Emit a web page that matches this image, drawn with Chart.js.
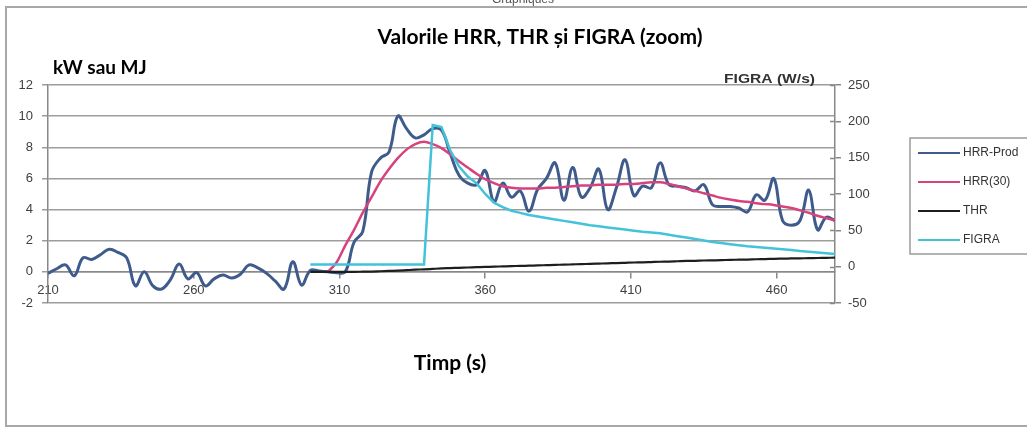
<!DOCTYPE html>
<html><head><meta charset="utf-8">
<script src="https://cdn.jsdelivr.net/npm/chart.js@4/dist/chart.umd.min.js"></script>
<style>html,body{margin:0;padding:0;background:#fff;}#wrap{width:1027px;height:429px;position:relative;}</style>
</head><body><div id="wrap"><canvas id="c" width="1027" height="429"></canvas></div>
<script>
// time (s)
const times = [
 210,213,216,219,222,225,228,231,234,237,
 240,243,246,249,252,255,258,261,264,267,
 270,273,276,279,282,285,288,291,294,297,
 300,303,306,309,312,315,318,321,324,327,
 330,333,336,339,342,345,348,351,354,357,
 360,363,366,369,372,375,378,381,384,387,
 390,393,396,399,402,405,408,411,414,417,
 420,423,426,429,432,435,438,441,444,447,
 450,453,456,459,462,465,468,471,474,477,
 480];
// kW
const hrrProd = [
 -0.1,0.2,0.45,-0.25,0.9,0.8,1.1,1.45,1.25,0.9,
 -0.9,0.0,-0.9,-1.1,-0.5,0.5,-0.45,-0.05,-0.9,-0.45,
 -0.2,-0.4,-0.15,0.45,0.25,-0.1,-0.6,-1.1,0.65,-0.85,
 0.1,0.05,0.0,-0.05,0.0,1.9,2.6,6.4,7.3,7.7,
 10.0,9.2,8.6,8.8,9.2,9.1,7.6,6.2,5.7,5.6,
 6.5,4.5,5.7,4.8,5.2,3.9,5.3,6.0,7.0,4.6,
 6.7,4.8,5.4,6.6,4.0,5.4,7.2,4.9,5.5,5.4,
 7.0,5.6,5.5,5.4,5.2,5.6,4.3,4.2,4.2,4.1,
 3.85,4.95,4.6,6.0,3.3,3.0,3.3,5.25,2.7,3.5,
 3.3];
const hrr30 = [
 null,null,null,null,null,null,null,null,null,null,
 null,null,null,null,null,null,null,null,null,null,
 null,null,null,null,null,null,null,null,null,null,
 null,null,0.0,0.6,1.7,2.7,3.8,4.8,5.8,6.6,
 7.3,7.85,8.2,8.35,8.2,7.95,7.55,7.1,6.7,6.3,
 5.95,5.7,5.5,5.4,5.35,5.35,5.35,5.4,5.4,5.45,
 5.5,5.55,5.55,5.6,5.6,5.6,5.65,5.65,5.7,5.75,
 5.75,5.65,5.5,5.35,5.2,5.05,4.9,4.75,4.65,4.55,
 4.5,4.4,4.35,4.3,4.2,4.1,3.95,3.8,3.6,3.45,
 3.3];
// MJ
const thr = [
 null,null,null,null,null,null,null,null,null,null,
 null,null,null,null,null,null,null,null,null,null,
 null,null,null,null,null,null,null,null,null,null,
 0,0,0,0,0,0,0.01,0.02,0.04,0.06,
 0.08,0.11,0.14,0.16,0.19,0.22,0.24,0.26,0.28,0.3,
 0.32,0.33,0.35,0.37,0.38,0.4,0.41,0.43,0.45,0.46,
 0.48,0.5,0.51,0.53,0.55,0.56,0.58,0.6,0.61,0.63,
 0.65,0.66,0.68,0.7,0.71,0.73,0.74,0.75,0.77,0.78,
 0.79,0.81,0.82,0.84,0.85,0.86,0.87,0.88,0.89,0.9,
 0.91];
// W/s
const figra = [
 null,null,null,null,null,null,null,null,null,null,
 null,null,null,null,null,null,null,null,null,null,
 null,null,null,null,null,null,null,null,null,null,
 3,3,3,3,3,3,3,3,3,3,
 3,3,3,3,195,192,160,138,124,115,
 100,88,82,77,74,71,69,67,65,63,
 61,59,57,55.5,54,52.5,51,49.5,48,47,
 46,44,42,40,38,36,34,32.5,31,29.5,
 28,27,26,25,24,23,21.5,20.5,19.5,18.5,
 17.5];
const xTickValues = [210,260,310,360,410,460];
const seriesLabels = ['HRR-Prod','HRR(30)','THR','FIGRA'];
const seriesColors = ['#3e5b8c','#d8427c','#1e1e1e','#43c2da'];
const titleText = 'Valorile HRR, THR și FIGRA (zoom)';
const leftAxisTitle = 'kW sau MJ';
const rightAxisTitle = 'FIGRA (W/s)';
const xAxisTitle = 'Timp (s)';
const headerText = 'Graphiques';

function pts(vals){ return times.map((t,i)=>({x:t,y:vals[i]})); }

const tickFont = {family:'Liberation Sans', size:13};
const tickColor = '#404040';

const decor = {
  id:'decor',
  afterDraw(chart){
    const ctx = chart.ctx;
    ctx.save();
    // outer frame (right edge outside the picture)
    ctx.strokeStyle = '#a8a8a8'; ctx.lineWidth = 2;
    ctx.beginPath(); ctx.moveTo(1030,7); ctx.lineTo(6,7); ctx.lineTo(6,426); ctx.lineTo(1030,426); ctx.stroke();
    // header (cut off)
    ctx.fillStyle = '#555'; ctx.font = '12px "Liberation Sans"'; ctx.textAlign='center'; ctx.textBaseline='alphabetic';
    ctx.fillText(headerText, 523, 3);
    // title
    ctx.fillStyle = '#000'; ctx.font = 'bold 21px Lato'; ctx.textAlign='center'; ctx.textBaseline='middle';
    ctx.fillText(titleText, 540, 37);
    ctx.font = 'bold 19px Lato'; ctx.textAlign='left';
    ctx.fillText(leftAxisTitle, 53, 68);
    ctx.font = 'bold 21px Lato'; ctx.textAlign='center';
    ctx.fillText(xAxisTitle, 450, 363);
    // right axis title, slightly stretched like the scan
    ctx.save();
    ctx.fillStyle = '#333'; ctx.font = 'bold 13px "Liberation Sans"'; ctx.textAlign='right';
    ctx.translate(815,79); ctx.scale(1.2,1); ctx.fillText(rightAxisTitle, 0, 0);
    ctx.restore();
    // right-axis cross ticks (inner half)
    const y1 = chart.scales.y1, ca = chart.chartArea;
    ctx.strokeStyle = '#888'; ctx.lineWidth = 1.5;
    y1.ticks.forEach(t=>{ const py = Math.round(y1.getPixelForValue(t.value))+0.5; ctx.beginPath(); ctx.moveTo(ca.right-5,py); ctx.lineTo(ca.right,py); ctx.stroke(); });
    // legend
    ctx.strokeStyle = '#9a9a9a'; ctx.lineWidth = 1.5;
    ctx.strokeRect(910,138,130,116);
    ctx.font = '12px "Liberation Sans"'; ctx.textAlign='left'; ctx.textBaseline='middle';
    const rows = [153,182,211,240];
    chart.data.datasets.forEach((ds,i)=>{
      ctx.strokeStyle = ds.borderColor; ctx.lineWidth = 2.2;
      ctx.beginPath(); ctx.moveTo(918,rows[i]); ctx.lineTo(960,rows[i]); ctx.stroke();
      ctx.fillStyle = '#333'; ctx.fillText(ds.label, 963, rows[i]);
    });
    ctx.restore();
  }
};

new Chart(document.getElementById('c'), {
  type:'line',
  data:{ datasets:[
    {label:seriesLabels[0], data:pts(hrrProd), borderColor:seriesColors[0], borderWidth:3, tension:0.4, pointRadius:0, yAxisID:'y', order:4},
    {label:seriesLabels[1], data:pts(hrr30), borderColor:seriesColors[1], borderWidth:2.5, cubicInterpolationMode:'monotone', pointRadius:0, yAxisID:'y', order:3},
    {label:seriesLabels[2], data:pts(thr), borderColor:seriesColors[2], borderWidth:2.2, cubicInterpolationMode:'monotone', pointRadius:0, yAxisID:'y', order:2},
    {label:seriesLabels[3], data:pts(figra), borderColor:seriesColors[3], borderWidth:2.5, tension:0, pointRadius:0, yAxisID:'y1', order:1}
  ]},
  options:{
    responsive:false, animation:false, devicePixelRatio:1,
    layout:{padding:{left:0,right:132,top:85,bottom:126}},
    plugins:{legend:{display:false}, title:{display:false}, tooltip:{enabled:false}},
    scales:{
      x:{ type:'linear', min:210, max:480, position:{y:0},
          afterBuildTicks:s=>{ s.ticks = xTickValues.map(v=>({value:v})); },
          afterFit:s=>{ s.height = 0; },
          grid:{drawOnChartArea:false, drawTicks:true, tickLength:6, color:'#888', lineWidth:1.5},
          border:{display:true, color:'#888', width:1.5},
          ticks:{font:tickFont, color:tickColor, padding:5, maxRotation:0, autoSkip:false, callback:v=>String(v)} },
      y:{ position:'left', min:-2, max:12,
          afterFit:s=>{ s.width = 48; },
          ticks:{stepSize:2, font:tickFont, color:tickColor, padding:9},
          grid:{color:'#9c9c9c', lineWidth:1.5, tickLength:6},
          border:{color:'#888', width:1.5} },
      y1:{ position:'right', min:-50, max:250,
          afterFit:s=>{ s.width = 60; },
          ticks:{stepSize:50, font:tickFont, color:tickColor, padding:7},
          grid:{drawOnChartArea:false, tickLength:6, color:'#888', lineWidth:1.5},
          border:{color:'#888', width:1.5} }
    }
  },
  plugins:[decor]
});
</script></body></html>
